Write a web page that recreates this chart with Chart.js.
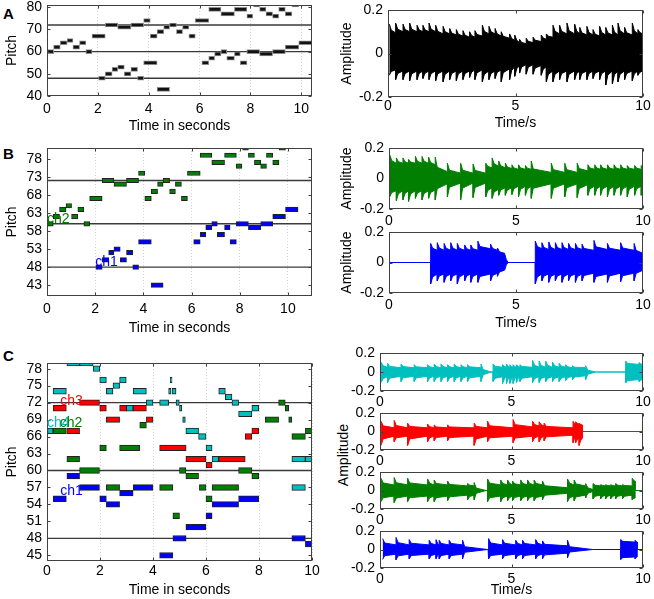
<!DOCTYPE html>
<html lang="en">
<head>
<meta charset="UTF-8">
<title>Piano roll and waveforms</title>
<style>
  body { margin: 0; background: #fff; }
  #fig { position: relative; width: 654px; height: 599px; overflow: hidden; background: #fff;
         font-family: "Liberation Sans", Arial, Helvetica, sans-serif; color: #000; }
  #fig canvas { position: absolute; }
  .tag { position: absolute; left: 3px; font-weight: bold; font-size: 15px; line-height: 15px; }
  .vlabel { position: absolute; font-size: 14px; line-height: 14px; white-space: nowrap;
            transform: translate(-50%, -50%) rotate(-90deg); }
</style>
</head>
<body>
<div id="fig">
  <div class="tag" style="top:6px">A</div>
  <div class="tag" style="top:146px">B</div>
  <div class="tag" style="top:348px">C</div>
  <div class="vlabel" style="left:343px; top:455px">Amplitude</div>
</div>

<script src="https://cdn.jsdelivr.net/npm/chart.js@4.4.1/dist/chart.umd.min.js"></script>
<script>
// ---- notes: [start s, end s, pitch] ----
// two-voice piece (panels A and B)
const notesCh1 = [
  [2.03, 2.29, 48], [2.29, 2.56, 50], [2.56, 2.78, 52], [2.78, 3.04, 53], [3.04, 3.30, 50],
  [3.30, 3.56, 52], [3.56, 3.80, 48], [3.80, 4.33, 55], [4.33, 4.82, 43],
  [6.09, 6.36, 55], [6.36, 6.59, 57], [6.59, 6.84, 59], [6.84, 7.07, 60], [7.07, 7.37, 57],
  [7.37, 7.60, 59], [7.60, 7.86, 55], [7.86, 8.36, 60], [8.36, 8.87, 59], [8.87, 9.37, 60],
  [9.37, 9.90, 62], [9.90, 10.42, 64]
];
const notesCh2 = [
  [0.00, 0.26, 60], [0.26, 0.52, 62], [0.52, 0.79, 64], [0.79, 1.02, 65], [1.02, 1.28, 62],
  [1.28, 1.53, 64], [1.53, 1.77, 60], [1.77, 2.29, 67], [2.29, 2.78, 72], [2.78, 3.30, 71],
  [3.30, 3.80, 72], [3.80, 4.06, 74], [4.06, 4.33, 67], [4.33, 4.59, 69], [4.59, 4.82, 71],
  [4.82, 5.09, 72], [5.09, 5.33, 69], [5.33, 5.58, 71], [5.58, 5.83, 67], [5.83, 6.36, 74],
  [6.36, 6.84, 79], [6.84, 7.37, 77], [7.37, 7.86, 79], [7.86, 8.09, 76], [8.12, 8.36, 81],
  [8.36, 8.61, 79], [8.61, 8.87, 77], [8.87, 9.11, 76], [9.11, 9.37, 79], [9.37, 9.63, 77],
  [9.63, 9.90, 81]
];
// four-voice piece (panel C)
const notesC1 = [
  [0.23, 0.73, 55], [0.75, 1.23, 59], [1.23, 1.98, 57], [1.99, 2.24, 55], [2.24, 2.74, 54],
  [2.74, 3.25, 56], [3.25, 4.00, 57], [4.25, 4.75, 45], [4.75, 5.25, 48], [5.24, 6.00, 50],
  [6.00, 6.23, 52], [6.23, 7.23, 54], [7.23, 7.99, 55], [9.24, 9.75, 48], [9.75, 10.0, 47]
];
const notesC2 = [
  [0.23, 0.73, 67], [0.75, 1.23, 62], [1.23, 1.98, 60], [1.99, 2.24, 64], [2.24, 2.74, 57],
  [2.74, 3.50, 64], [3.50, 3.75, 68], [4.25, 4.75, 57], [4.75, 5.00, 52], [5.00, 5.24, 60],
  [5.24, 5.72, 59], [5.75, 6.00, 57], [6.00, 6.23, 55], [6.23, 7.23, 57], [7.23, 7.73, 60],
  [7.73, 7.99, 59], [8.24, 8.74, 69], [8.74, 8.99, 72], [8.99, 9.12, 71], [9.12, 9.24, 69],
  [9.24, 9.75, 66], [9.75, 10.0, 67]
];
const notesC3 = [
  [0.23, 0.73, 71], [0.75, 1.23, 67], [1.23, 1.98, 72], [1.99, 2.24, 71], [2.24, 2.74, 69],
  [2.74, 3.00, 71], [3.25, 3.75, 71], [3.75, 4.00, 69], [4.25, 5.25, 64], [5.24, 6.00, 62],
  [6.00, 6.23, 61], [6.48, 7.48, 62], [7.48, 7.73, 66], [7.73, 7.99, 67]
];
const notesC4 = [
  [0.00, 0.23, 67], [0.23, 0.73, 74], [0.75, 1.23, 79], [1.23, 1.74, 79], [1.74, 1.99, 78],
  [1.99, 2.24, 76], [2.24, 2.49, 74], [2.49, 2.74, 75], [2.74, 2.99, 76], [2.99, 3.25, 71],
  [3.25, 3.75, 74], [3.75, 4.00, 72], [4.25, 4.59, 72], [4.59, 4.68, 74], [4.65, 4.72, 76],
  [4.72, 4.87, 74], [4.87, 4.99, 72], [5.00, 5.09, 71], [5.12, 5.22, 69], [5.24, 5.72, 67],
  [5.72, 6.00, 66], [6.00, 6.23, 64], [6.23, 6.48, 62], [6.48, 6.73, 74], [6.73, 6.98, 73],
  [6.98, 7.23, 72], [7.23, 7.73, 70], [7.73, 7.99, 71], [9.24, 9.75, 62], [9.75, 10.0, 62],
  [9.24, 9.75, 57]
];

// reference pitches drawn as horizontal lines
const refPitches = [48, 60, 72];
// channel name labels: [name, time, pitch]
const labelsB = [['ch2', 0.0, 61.3], ['ch1', 2.0, 49.4]];
const labelsC = [['ch3', 0.5, 72.3], ['ch4', 0.0, 68.4], ['ch2', 0.48, 68.4], ['ch1', 0.5, 56.4]];

// tick labels
const rollTicksX = [0, 2, 4, 6, 8, 10];
const pitchTicksA = [40, 50, 60, 70, 80];
const pitchTicksB = [43, 48, 53, 58, 63, 68, 73, 78];
const pitchTicksC = [45, 48, 51, 54, 57, 60, 63, 66, 69, 72, 75, 78];
const waveTicksX = [0, 5, 10];
const waveTicksY = [-0.2, 0, 0.2];
const waveEnd = 10;

// ---- waveform envelopes: [onset s, peak top, top before next onset, peak bottom, bottom before next onset] ----
const waveMix = [
  [0.05, .135, .095, -.10, -.075], [0.30, .14, .10, -.12, -.08], [0.59, .135, .10, -.12, -.08],
  [0.85, .14, .10, -.125, -.08], [1.14, .13, .10, -.12, -.08], [1.37, .13, .10, -.115, -.08],
  [1.61, .14, .10, -.12, -.08], [1.87, .13, .09, -.125, -.08], [2.16, .125, .09, -.13, -.08],
  [2.42, .115, .085, -.12, -.08], [2.68, .11, .08, -.125, -.08], [2.94, .105, .075, -.12, -.08],
  [3.20, .10, .075, -.11, -.075], [3.41, .105, .08, -.12, -.075], [3.70, .13, .09, -.13, -.08],
  [3.96, .125, .09, -.12, -.08], [4.20, .115, .08, -.115, -.075], [4.44, .10, .07, -.13, -.07],
  [4.77, .09, .06, -.12, -.06], [4.97, .085, .05, -.105, -.055], [5.16, .065, .045, -.09, -.05],
  [5.42, .07, .05, -.095, -.05], [5.69, .075, .055, -.095, -.055], [6.01, .085, .065, -.10, -.06],
  [6.21, .09, .075, -.13, -.08], [6.47, .13, .09, -.13, -.08], [6.73, .13, .09, -.12, -.08],
  [7.02, .14, .09, -.13, -.08], [7.32, .135, .09, -.12, -.08], [7.52, .12, .085, -.12, -.08],
  [7.80, .125, .085, -.12, -.08], [8.04, .11, .08, -.115, -.08], [8.30, .125, .085, -.12, -.08],
  [8.54, .12, .085, -.145, -.08], [8.80, .13, .085, -.14, -.08], [9.02, .14, .09, -.13, -.08],
  [9.28, .12, .085, -.12, -.08], [9.58, .14, .09, -.125, -.08], [9.80, .11, .09, -.10, -.08]
];
const waveB2 = [
  [0.03, .155, .10, -.12, -.08], [0.29, .135, .10, -.145, -.08], [0.55, .135, .10, -.14, -.08],
  [0.77, .125, .10, -.15, -.08], [1.04, .145, .10, -.13, -.08], [1.30, .145, .10, -.14, -.08],
  [1.56, .14, .09, -.13, -.075], [1.82, .14, .045, -.14, -.035], [2.30, .10, .035, -.12, -.03],
  [2.82, .10, .035, -.14, -.03], [3.31, .095, .035, -.125, -.03], [3.81, .10, .07, -.12, -.06],
  [4.06, .135, .08, -.13, -.07], [4.32, .115, .07, -.11, -.06], [4.58, .10, .065, -.11, -.06],
  [4.84, .09, .06, -.105, -.05], [5.10, .09, .06, -.12, -.05], [5.37, .085, .06, -.11, -.05],
  [5.60, .115, .04, -.13, -.035], [6.39, .10, .04, -.13, -.035], [6.92, .10, .04, -.12, -.035],
  [7.41, .10, .05, -.125, -.04], [7.83, .09, .06, -.11, -.05], [8.10, .09, .06, -.11, -.05],
  [8.33, .09, .06, -.11, -.05], [8.60, .09, .06, -.12, -.05], [8.86, .09, .06, -.11, -.05],
  [9.12, .09, .06, -.11, -.05], [9.38, .085, .06, -.12, -.05], [9.67, .085, .06, -.11, -.05],
  [9.93, .085, .06, -.11, -.05]
];
const waveB1 = [
  [0.00, 0, 0, 0, 0], [1.64, .125, .08, -.14, -.075], [1.90, .13, .08, -.12, -.075],
  [2.17, .125, .08, -.13, -.075], [2.43, .13, .08, -.12, -.075], [2.69, .125, .08, -.14, -.075],
  [2.98, .115, .08, -.12, -.075], [3.22, .115, .08, -.13, -.075], [3.50, .14, .09, -.13, -.075],
  [4.00, .12, .08, -.12, -.07], [4.27, .095, .06, -.09, -.05], [4.55, .06, 0, -.05, 0],
  [4.69, 0, 0, 0, 0], [5.76, .14, .09, -.14, -.075], [6.02, .13, .085, -.12, -.075],
  [6.29, .135, .085, -.13, -.075], [6.55, .13, .085, -.12, -.075], [6.81, .13, .085, -.13, -.075],
  [7.07, .125, .085, -.12, -.075], [7.34, .125, .085, -.13, -.075], [7.60, .12, .08, -.12, -.07],
  [8.07, .145, .085, -.13, -.075], [8.60, .125, .08, -.13, -.07], [9.12, .13, .08, -.125, -.07],
  [9.65, .125, .06, -.12, -.05]
];
const waveC4 = [
  [0.04, .104, .05, -.11, -.05], [0.29, .092, .045, -.11, -.045], [0.80, .085, .045, -.10, -.045],
  [1.30, .077, .045, -.10, -.045], [1.81, .077, .045, -.10, -.045], [2.06, .085, .045, -.10, -.045],
  [2.32, .085, .045, -.10, -.045], [2.57, .077, .045, -.10, -.045], [2.82, .085, .045, -.10, -.045],
  [3.08, .077, .045, -.10, -.045], [3.33, .077, .045, -.10, -.045], [3.84, .085, 0, -.10, 0],
  [4.22, 0, 0, 0, 0], [4.30, .085, .05, -.10, -.05], [4.66, .077, .05, -.12, -.05],
  [4.81, .085, .05, -.12, -.05], [4.94, .077, .05, -.12, -.05], [5.06, .077, .05, -.12, -.05],
  [5.19, .077, .05, -.11, -.05], [5.32, .077, .05, -.10, -.05], [5.80, .123, .05, -.11, -.05],
  [6.05, .115, .05, -.11, -.05], [6.30, .115, .05, -.10, -.05], [6.56, .104, .05, -.10, -.05],
  [6.81, .092, .05, -.10, -.05], [7.06, .077, .045, -.09, -.045], [7.32, .065, .045, -.08, -.04],
  [7.82, .065, 0, -.08, 0], [8.20, 0, 0, 0, 0], [9.34, .115, .08, -.115, -.08],
  [9.85, .10, .08, -.10, -.08], [9.97, 0, 0, 0, 0]
];
const waveC3 = [
  [0.04, .11, .04, -.15, -.05], [0.54, .12, .04, -.11, -.05], [1.05, .09, .04, -.15, -.05],
  [1.81, .08, .04, -.11, -.05], [2.06, .07, .04, -.10, -.05], [2.57, .07, .04, -.10, -.05],
  [3.58, .09, .04, -.15, -.05], [4.09, .112, .04, -.11, -.05], [5.06, .13, .05, -.12, -.05],
  [5.80, .11, .06, -.11, -.05], [6.05, .105, .06, -.11, -.05], [6.24, .09, .04, -.10, -.04],
  [7.34, .11, .08, -.12, -.07], [7.44, .105, .08, -.12, -.07], [7.57, .09, .07, -.15, -.07],
  [7.70, 0, 0, 0, 0]
];
const waveC2 = [
  [0.04, .133, .06, -.12, -.06], [0.54, .14, .06, -.13, -.06], [1.05, .133, .06, -.12, -.06],
  [1.81, .125, .06, -.12, -.06], [2.06, .114, .06, -.12, -.06], [2.57, .102, .05, -.11, -.05],
  [3.33, .075, .05, -.10, -.05], [3.58, .086, 0, -.10, 0], [4.03, 0, 0, 0, 0],
  [4.09, .125, .06, -.12, -.06], [4.59, .114, .06, -.12, -.06], [4.85, .114, .06, -.11, -.06],
  [5.04, .102, .06, -.11, -.06], [5.35, .114, .06, -.11, -.06], [5.61, .114, .06, -.11, -.06],
  [5.86, .114, .06, -.11, -.06], [6.18, .102, .03, -.10, -.03], [7.13, .125, .06, -.12, -.06],
  [7.38, .114, .05, -.11, -.05], [7.82, .075, .01, -.08, -.01], [8.10, .075, .05, -.09, -.05],
  [8.39, .063, .05, -.09, -.05], [8.58, .063, .05, -.09, -.05], [8.77, .063, .05, -.09, -.05],
  [8.96, .075, .05, -.09, -.05], [9.22, .063, .05, -.09, -.05], [9.59, .133, .10, -.10, -.08],
  [9.70, 0, 0, 0, 0]
];
const waveC1 = [
  [0.10, .118, .05, -.107, -.05], [0.61, .13, .05, -.11, -.05], [1.11, .107, .05, -.10, -.05],
  [1.87, .10, .05, -.10, -.05], [2.13, .107, .05, -.10, -.05], [2.25, .10, .05, -.10, -.05],
  [2.63, .10, .05, -.10, -.05], [3.14, .10, 0, -.10, 0], [4.09, 0, 0, 0, 0],
  [4.13, .118, .05, -.10, -.05], [4.66, .107, .05, -.10, -.05], [5.16, .10, .05, -.10, -.05],
  [5.42, .10, .05, -.10, -.05], [5.92, .107, .05, -.10, -.05], [6.18, .093, .04, -.10, -.04],
  [7.13, .10, 0, -.09, 0], [8.08, 0, 0, 0, 0], [9.15, .107, .08, -.107, -.08],
  [9.70, .10, .08, -.10, -.08], [9.78, 0, 0, 0, 0]
];

// ---- styles ----
const chColors = { ch1: '#0000ff', ch2: '#007f00', ch3: '#ff0000', ch4: '#00bfbf' };
const FONT = '"Liberation Sans", Arial, Helvetica, sans-serif';
// shape of each onset spike: quick drop over KNEE_S seconds, keeping KNEE_KEEP of the excess
const KNEE_S = 0.08;
const KNEE_KEEP = 0.3;

Chart.defaults.font.family = FONT;
Chart.defaults.font.size = 14;
Chart.defaults.color = '#000';
Chart.defaults.animation = false;
Chart.defaults.plugins.legend.display = false;
Chart.defaults.plugins.tooltip.enabled = false;

const fig = document.getElementById('fig');

function addCanvas(c) {
  const cv = document.createElement('canvas');
  cv.width = c.w; cv.height = c.h;
  cv.style.left = c.x + 'px'; cv.style.top = c.y + 'px';
  cv.style.width = c.w + 'px'; cv.style.height = c.h + 'px';
  fig.appendChild(cv);
  return cv;
}

// box around the plot area plus small inward tick marks, like the original figure
const framePlugin = {
  id: 'frame',
  afterDatasetsDraw(chart) {
    const { ctx, chartArea: a, scales: { x, y } } = chart;
    const L = Math.round(a.left) + 0.5, R = Math.round(a.right) - 0.5;
    const T = Math.round(a.top) + 0.5, B = Math.round(a.bottom) - 0.5;
    ctx.save();
    ctx.strokeStyle = '#404040';
    ctx.lineWidth = 1;
    ctx.beginPath();
    x.ticks.forEach(t => {
      const px = Math.round(x.getPixelForValue(t.value)) + 0.5;
      ctx.moveTo(px, B); ctx.lineTo(px, B - 3);
      ctx.moveTo(px, T); ctx.lineTo(px, T + 3);
    });
    y.ticks.forEach(t => {
      const py = Math.round(y.getPixelForValue(t.value)) + 0.5;
      ctx.moveTo(L, py); ctx.lineTo(L + 3, py);
      ctx.moveTo(R, py); ctx.lineTo(R - 3, py);
    });
    ctx.stroke();
    ctx.strokeRect(L, T, R - L, B - T);
    ctx.restore();
  }
};

function labelPlugin(items) {
  return {
    id: 'chLabels',
    afterDatasetsDraw(chart) {
      const { ctx, scales: { x, y } } = chart;
      ctx.save();
      ctx.font = '14px ' + FONT;
      ctx.textAlign = 'left';
      ctx.textBaseline = 'middle';
      items.forEach(it => {
        ctx.fillStyle = chColors[it[0]];
        ctx.fillText(it[0], x.getPixelForValue(it[1]), y.getPixelForValue(it[2]));
      });
      ctx.restore();
    }
  };
}

// fix the axis boxes so the plot area lands where it is in the figure
function axisX(c, p, ticks, min, max, pad, extra) {
  return Object.assign({
    type: 'linear', min, max,
    grid: { display: false, drawTicks: false },
    border: { display: false },
    ticks: { autoSkip: false, maxRotation: 0, padding: pad, callback: v => String(v) },
    afterBuildTicks: s => { s.ticks = ticks.map(v => ({ value: v })); },
    afterFit: s => { s.height = c.y + c.h - p.b; s.paddingLeft = 0; s.paddingRight = 0; }
  }, extra);
}
function axisY(c, p, ticks, min, max, extra) {
  return Object.assign({
    type: 'linear', min, max, offset: false,
    grid: { display: false, drawTicks: false, offset: false },
    border: { display: false },
    ticks: { autoSkip: false, padding: 5, callback: v => String(v) },
    afterBuildTicks: s => { s.ticks = ticks.map(v => ({ value: v })); },
    afterFit: s => { s.width = p.l - c.x; s.paddingTop = 0; s.paddingBottom = 0; }
  }, extra);
}
function layoutFor(c, p) {
  return { autoPadding: false, padding: { left: 0, top: p.t - c.y, right: c.x + c.w - p.r, bottom: 0 } };
}

function rollChart(c, p, spec) {
  const datasets = [];
  refPitches.forEach(v => datasets.push({
    type: 'line', data: [{ x: 0, y: v }, { x: spec.xMax, y: v }],
    borderColor: '#3a3a3a', borderWidth: 1.4, pointRadius: 0, order: 2
  }));
  spec.groups.forEach(g => datasets.push({
    type: 'bar', data: g.notes.map(n => ({ x: [n[0], n[1]], y: n[2] })),
    backgroundColor: g.fill, borderColor: g.edge, borderWidth: 1, borderSkipped: false,
    barThickness: spec.thickness, grouped: false, order: 1
  }));
  new Chart(addCanvas(c), {
    type: 'bar',
    data: { datasets },
    options: {
      responsive: false,
      indexAxis: 'y',
      layout: layoutFor(c, p),
      scales: {
        x: axisX(c, p, rollTicksX, 0, spec.xMax, spec.tickPad, {
          grid: { display: true, drawTicks: false, color: '#d4d4d4', lineWidth: 1 },
          border: { display: false, dash: [1, 2] },
          title: { display: true, text: 'Time in seconds', padding: 0 }
        }),
        y: axisY(c, p, spec.yTicks, spec.yMin, spec.yMax, {
          title: { display: true, text: 'Pitch', padding: 0 }
        })
      }
    },
    plugins: [framePlugin, labelPlugin(spec.labels)]
  });
}

// envelope outline: vertical rise at each onset, fast drop, then slow decay to the next onset
function outline(env, peakIdx, endIdx) {
  const pts = [];
  env.forEach((e, i) => {
    const next = i + 1 < env.length ? env[i + 1][0] : waveEnd;
    const peak = e[peakIdx], end = e[endIdx];
    const knee = Math.min(KNEE_S, (next - e[0]) / 2);
    pts.push({ x: e[0], y: peak });
    pts.push({ x: e[0] + knee, y: end + (peak - end) * KNEE_KEEP });
    pts.push({ x: next, y: end });
  });
  return pts;
}

function waveChart(c, p, env, color, titles, pad) {
  const line = { borderColor: color, backgroundColor: color, borderWidth: 1, pointRadius: 0, tension: 0 };
  new Chart(addCanvas(c), {
    type: 'line',
    data: { datasets: [
      Object.assign({ data: outline(env, 1, 2), fill: false }, line),
      Object.assign({ data: outline(env, 3, 4), fill: '-1' }, line)
    ] },
    options: {
      responsive: false,
      layout: layoutFor(c, p),
      scales: {
        x: axisX(c, p, waveTicksX, 0, waveEnd, pad, {
          title: { display: !!titles.x, text: 'Time/s', padding: 0 }
        }),
        y: axisY(c, p, waveTicksY, -0.2, 0.2, {
          title: { display: !!titles.y, text: 'Amplitude', padding: 0 }
        })
      }
    },
    plugins: [framePlugin]
  });
}

// ---- left column: piano rolls ----
rollChart({ x: 4, y: 0, w: 321, h: 135 }, { l: 47, t: 5, r: 312, b: 96 }, {
  xMax: 10.42, yMin: 40, yMax: 81, yTicks: pitchTicksA, thickness: 4, labels: [], tickPad: 5,
  groups: [
    { notes: notesCh1, fill: '#111111', edge: '#8a8a8a' },
    { notes: notesCh2, fill: '#111111', edge: '#8a8a8a' }
  ]
});
rollChart({ x: 4, y: 140, w: 321, h: 197 }, { l: 47, t: 148, r: 312, b: 296 }, {
  xMax: 11, yMin: 40, yMax: 81, yTicks: pitchTicksB, thickness: 4.5, labels: labelsB, tickPad: 5,
  groups: [
    { notes: notesCh1, fill: chColors.ch1, edge: '#222222' },
    { notes: notesCh2, fill: chColors.ch2, edge: '#222222' }
  ]
});
rollChart({ x: 4, y: 355, w: 321, h: 244 }, { l: 47, t: 363, r: 312, b: 561 }, {
  xMax: 10, yMin: 44, yMax: 79, yTicks: pitchTicksC, thickness: 5.7, labels: labelsC, tickPad: 2,
  groups: [
    { notes: notesC1, fill: chColors.ch1, edge: '#222222' },
    { notes: notesC2, fill: chColors.ch2, edge: '#222222' },
    { notes: notesC3, fill: chColors.ch3, edge: '#222222' },
    { notes: notesC4, fill: chColors.ch4, edge: '#222222' }
  ]
});

// ---- right column: waveforms ----
waveChart({ x: 339, y: 2, w: 315, h: 130 }, { l: 388, t: 10, r: 643, b: 97 }, waveMix, '#000000', { x: true, y: true }, 1);
waveChart({ x: 339, y: 140, w: 315, h: 92 }, { l: 389, t: 148, r: 643, b: 209 }, waveB2, chColors.ch2, { y: true }, 4);
waveChart({ x: 339, y: 224, w: 315, h: 108 }, { l: 389, t: 232, r: 643, b: 293 }, waveB1, chColors.ch1, { x: true, y: true }, 4);
waveChart({ x: 340, y: 344, w: 314, h: 67 }, { l: 380, t: 353, r: 643, b: 391 }, waveC4, chColors.ch4, {}, 3);
waveChart({ x: 340, y: 404, w: 314, h: 66 }, { l: 380, t: 413, r: 643, b: 450 }, waveC3, chColors.ch3, {}, 3);
waveChart({ x: 340, y: 463, w: 314, h: 66 }, { l: 380, t: 472, r: 643, b: 509 }, waveC2, chColors.ch2, {}, 3);
waveChart({ x: 340, y: 522, w: 314, h: 77 }, { l: 380, t: 531, r: 643, b: 568 }, waveC1, chColors.ch1, { x: true }, 3);
</script>
</body>
</html>
